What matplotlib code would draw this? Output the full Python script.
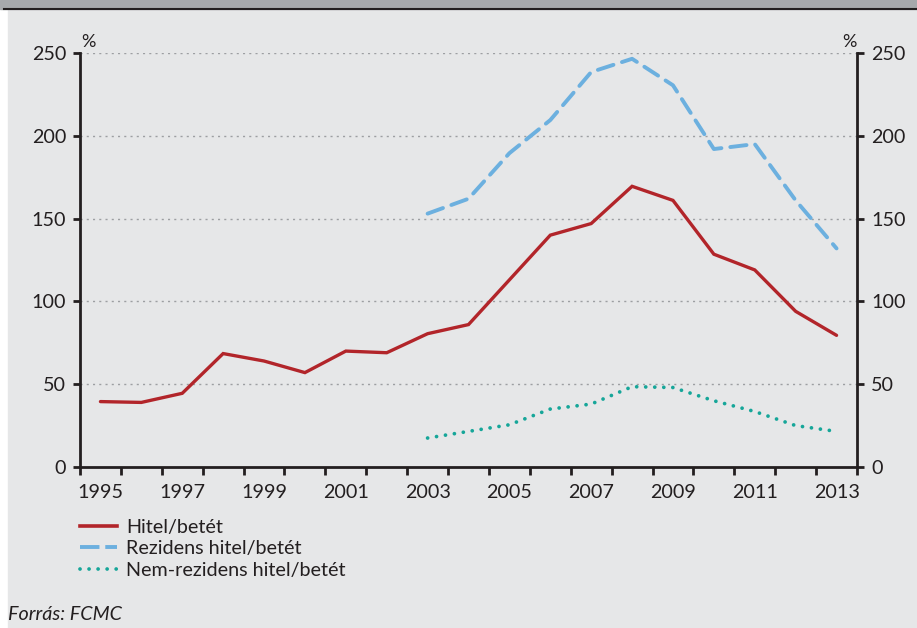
import matplotlib
matplotlib.use("Agg")
import matplotlib.pyplot as plt
from matplotlib.lines import Line2D
from matplotlib.patches import Rectangle

plt.rcParams['font.family'] = ['Lato', 'DejaVu Sans']

years = list(range(1995, 2014))
hitel = [39.5, 39, 44.5, 68.5, 64, 57, 70, 69, 80.5, 86, 113, 140, 147, 169.5, 161, 128.5, 119, 94, 79.5]
rez_years = list(range(2003, 2014))
rezidens = [153, 162, 189.5, 209.5, 238.5, 246.5, 230.5, 192, 195, 161, 132]
nemrez = [17.5, 21.5, 25.5, 35, 38, 48.5, 48, 40, 33.5, 25, 21.5]

xlabels = [str(y) for y in range(1995, 2014, 2)]
yticks = [0, 50, 100, 150, 200, 250]
labels = ['Hitel/betét', 'Rezidens hitel/betét', 'Nem-rezidens hitel/betét']

c_red = '#b2252a'
c_blue = '#6cb0df'
c_teal = '#16a699'
bg = '#e6e7e8'
txt = '#231f20'
FS = 14.2

fig = plt.figure(figsize=(9.17, 6.28), dpi=100)
fig.patch.set_facecolor('white')
fig.add_artist(Rectangle((8/917, 0), 1, 1, transform=fig.transFigure, color=bg, zorder=-10))
fig.add_artist(Rectangle((0, (628-8.5)/628), 1, 8.5/628, transform=fig.transFigure, color='#a7a9ac', zorder=-9))
fig.add_artist(Line2D([4/917, 1], [(628-9.2)/628]*2, transform=fig.transFigure, color='#231f20', lw=1.5))

ax = fig.add_axes([80/917, (628-467)/628, (857-80)/917, (467-53)/628])
ax.set_facecolor(bg)
ax.plot(years, hitel, color=c_red, lw=2.4, solid_capstyle='round', solid_joinstyle='miter', zorder=3)
ax.plot(rez_years, rezidens, color=c_blue, lw=2.8, dashes=(4.2, 2.3), dash_capstyle='round', zorder=3)
ax.plot(rez_years, nemrez, color=c_teal, lw=2.7, dashes=(0.01, 2.4), dash_capstyle='round', zorder=3)

ax.set_xlim(1994.5, 2013.5)
ax.set_ylim(0, 250)
ax.set_yticks(yticks)
ax.set_xticks(list(range(1995, 2014, 2)))
ax.set_xticklabels(xlabels)
ax.set_xticks([y - 0.5 for y in range(1995, 2015)], minor=True)
ax.tick_params(axis='x', which='major', length=0, pad=12, labelsize=FS, colors=txt)
ax.tick_params(axis='x', which='minor', length=6, width=2, direction='out', color=txt)
ax.tick_params(axis='y', length=5, width=2, direction='out', labelsize=FS, colors=txt, pad=5)
for y in yticks[1:]:
    ax.axhline(y, color='#9d9fa2', lw=1, dashes=(1.5, 3), zorder=1)
for s in ['top', 'right']:
    ax.spines[s].set_visible(False)
for s in ['left', 'bottom']:
    ax.spines[s].set_linewidth(2)
    ax.spines[s].set_color(txt)

ax2 = ax.twinx()
ax2.set_ylim(0, 250)
ax2.set_yticks(yticks)
ax2.tick_params(axis='y', length=5, width=2, direction='out', labelsize=FS, colors=txt, pad=5)
for s in ['top', 'left', 'bottom']:
    ax2.spines[s].set_visible(False)
ax2.spines['right'].set_linewidth(2)
ax2.spines['right'].set_color(txt)

fig.text(88/917, (628-42)/628, '%', fontsize=13, color=txt, ha='center', va='center')
fig.text(849/917, (628-42)/628, '%', fontsize=13, color=txt, ha='center', va='center')

handles = [
    Line2D([], [], color=c_red, lw=2.6),
    Line2D([], [], color=c_blue, lw=2.8, dashes=(5, 1.5)),
    Line2D([], [], color=c_teal, lw=2.7, dashes=(0.01, 2.4), dash_capstyle='round'),
]
fig.legend(handles, labels, loc='upper left', bbox_to_anchor=(80/917, (628-519)/628),
           frameon=False, fontsize=FS, handlelength=1.9, handletextpad=0.45,
           labelspacing=0.22, borderaxespad=0, borderpad=0, labelcolor=txt)

fig.text(8/917, (628-615)/628, 'Forrás: FCMC', fontsize=FS, style='italic', color=txt,
         ha='left', va='center')

fig.savefig('out.png', dpi=100, facecolor=fig.get_facecolor())
